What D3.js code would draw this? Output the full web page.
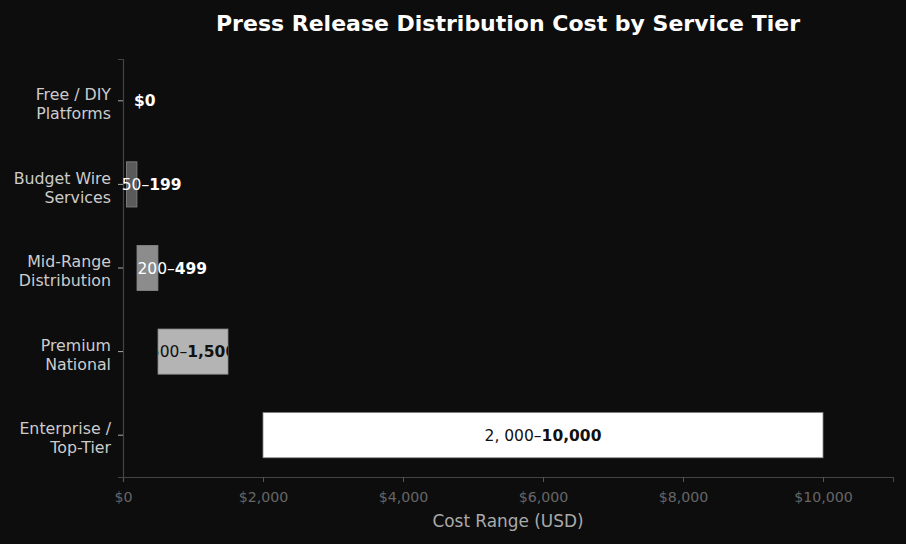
<!DOCTYPE html>
<html>
<head>
<meta charset="utf-8">
<script src="https://cdn.jsdelivr.net/npm/d3@7"></script>
<style>
  body { margin: 0; background: #0d0d0d; }
  svg { display: block; font-family: "DejaVu Sans", sans-serif; }
</style>
</head>
<body>
<div id="chart"></div>
<script>
// service tiers, top to bottom
const tiers = ['Free / DIY|Platforms', 'Budget Wire|Services', 'Mid-Range|Distribution', 'Premium|National', 'Enterprise /|Top-Tier'];
const lowCost = [0, 50, 200, 500, 2000];
const highCost = [0, 199, 499, 1500, 10000];
const xTicks = [0, 2000, 4000, 6000, 8000, 10000];

const width = 906, height = 544;
const margin = {top: 59, right: 13, bottom: 67, left: 123};

const barFill = ['#0d0d0d', '#5a5a5a', '#8c8c8c', '#b4b4b4', '#ffffff'];

const svg = d3.select('#chart').append('svg')
    .attr('width', width)
    .attr('height', height);

svg.append('rect')
    .attr('width', width)
    .attr('height', height)
    .attr('fill', '#0d0d0d');

const x = d3.scaleLinear()
    .domain([0, 11000])
    .range([margin.left, width - margin.right]);

const y = d3.scaleBand()
    .domain(d3.range(tiers.length))
    .range([margin.top, height - margin.bottom])
    .paddingInner(0.46)
    .paddingOuter(0.23);

// title
svg.append('text')
    .attr('x', (margin.left + width - margin.right) / 2)
    .attr('y', 31)
    .attr('text-anchor', 'middle')
    .attr('fill', '#ffffff')
    .attr('font-size', 22)
    .attr('font-weight', 'bold')
    .text('Press Release Distribution Cost by Service Tier');

// x axis
const xAxis = svg.append('g')
    .attr('transform', 'translate(0,' + (height - margin.bottom) + ')')
    .call(d3.axisBottom(x).tickValues(xTicks).tickSize(5).tickPadding(10)
        .tickFormat(d => '$' + d3.format(',')(d)));
xAxis.select('.domain').attr('stroke', '#444').attr('stroke-width', 1.2);
xAxis.selectAll('.tick line').attr('stroke', '#555');
xAxis.selectAll('.tick text')
    .attr('fill', '#666')
    .attr('font-size', 14.2)
    .attr('font-family', '"DejaVu Sans", sans-serif');

svg.append('text')
    .attr('x', (margin.left + width - margin.right) / 2)
    .attr('y', 527)
    .attr('text-anchor', 'middle')
    .attr('fill', '#aaaaaa')
    .attr('font-size', 16.9)
    .text('Cost Range (USD)');

// y axis
const yAxis = svg.append('g')
    .attr('transform', 'translate(' + margin.left + ',0)')
    .call(d3.axisLeft(y).tickSize(5).tickPadding(8).tickFormat(''));
yAxis.select('.domain').attr('stroke', '#444').attr('stroke-width', 1.2);
yAxis.selectAll('.tick line').attr('stroke', '#aaa');

yAxis.selectAll('.tick').each(function (d) {
    const lines = tiers[d].split('|');
    const t = d3.select(this).append('text')
        .attr('x', -12)
        .attr('text-anchor', 'end')
        .attr('fill', '#cccccc')
        .attr('font-size', 15.8)
        .attr('font-family', '"DejaVu Sans", sans-serif');
    lines.forEach((ln, i) => {
        t.append('tspan')
            .attr('x', -12)
            .attr('dy', i === 0 ? '-0.05em' : '1.2em')
            .text(ln);
    });
});

// bars
const defs = svg.append('defs');
const idx = d3.range(tiers.length);

svg.append('g').selectAll('rect')
    .data(idx)
    .join('rect')
    .attr('x', i => x(lowCost[i]))
    .attr('y', i => y(i))
    .attr('width', i => x(highCost[i]) - x(lowCost[i]))
    .attr('height', y.bandwidth())
    .attr('fill', i => barFill[i])
    .attr('stroke', i => highCost[i] > lowCost[i] ? '#888' : 'none')
    .attr('stroke-width', 0.8);

idx.forEach(i => {
    defs.append('clipPath').attr('id', 'clip' + i)
        .append('rect')
        .attr('x', x(lowCost[i]))
        .attr('y', y(i))
        .attr('width', x(highCost[i]) - x(lowCost[i]))
        .attr('height', y.bandwidth());
});

// value labels
const fmt = d3.format(',');
idx.forEach(i => {
    const lo = lowCost[i], hi = highCost[i];
    const dark = barFill[i] === '#b4b4b4' || barFill[i] === '#ffffff';
    const cy = y(i) + y.bandwidth() / 2;
    const t = svg.append('text')
        .attr('y', cy)
        .attr('dy', '0.36em')
        .attr('font-size', 15.5)
        .attr('fill', dark ? '#111111' : '#ffffff');
    if (hi === 0) {
        t.attr('x', x(0) + 11).attr('font-weight', 'bold').text('$' + fmt(hi));
        return;
    }
    if (dark) {
        t.attr('x', x((lo + hi) / 2)).attr('text-anchor', 'middle')
            .attr('clip-path', 'url(#clip' + i + ')');
    } else {
        t.attr('x', x((lo + hi) / 2) - 10).attr('text-anchor', 'start');
    }
    t.append('tspan').text(fmt(lo).replace(',', ', ') + '–');
    t.append('tspan').attr('font-weight', 'bold').text(fmt(hi));
});
</script>
</body>
</html>
